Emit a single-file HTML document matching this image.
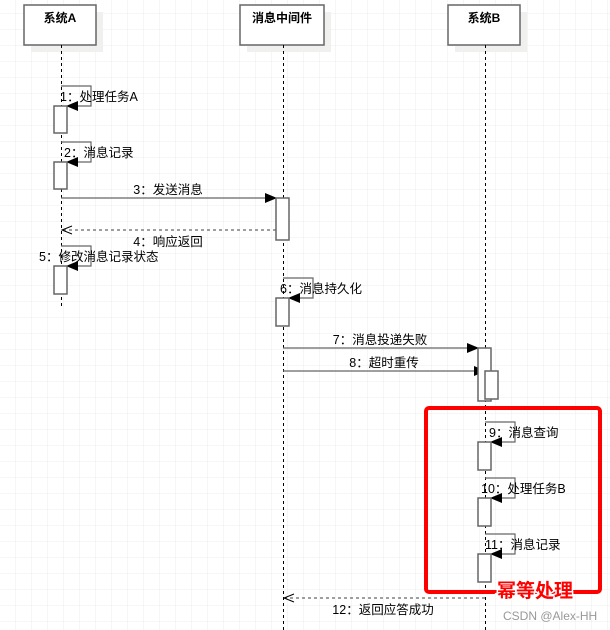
<!DOCTYPE html>
<html><head><meta charset="utf-8"><style>
html,body{margin:0;padding:0;background:#fff}
svg{display:block}
text{font-family:"Liberation Sans","Noto Sans CJK SC",sans-serif;font-size:12.5px;fill:#000}
</style></head><body>
<svg width="610" height="630" xmlns="http://www.w3.org/2000/svg">
<defs>
<pattern id="g" x="0" y="-2" width="16" height="16" patternUnits="userSpaceOnUse">
<path d="M16 0V16M0 16H16" stroke="#ececec" stroke-width="1" fill="none"/>
</pattern>
<marker id="fa" markerWidth="12" markerHeight="10" refX="11" refY="5" orient="auto" markerUnits="userSpaceOnUse">
<path d="M0 0L12 5L0 10Z" fill="#000"/></marker>
<marker id="oa" markerWidth="12" markerHeight="10" refX="11" refY="5" orient="auto" markerUnits="userSpaceOnUse">
<path d="M1 1L11 5L1 9" fill="none" stroke="#000"/></marker>
</defs>
<rect width="610" height="630" fill="url(#g)"/>
<g fill="#f0f0ee"><rect x="31" y="12" width="72" height="40"/><rect x="247" y="12" width="84" height="40"/><rect x="455" y="12" width="72" height="40"/></g>
<g fill="#fff" stroke="#666" stroke-width="1.5">
<rect x="24" y="5" width="72" height="40"/><rect x="240" y="5" width="84" height="40"/><rect x="448" y="5" width="72" height="40"/></g>
<g text-anchor="middle">
<text x="60" y="22" style="font-weight:bold;font-size:12px">系统A</text>
<text x="282" y="22" style="font-weight:bold;font-size:12px">消息中间件</text>
<text x="484" y="22" style="font-weight:bold;font-size:12px">系统B</text></g>
<g stroke="#000" stroke-dasharray="3,3" stroke-width="1">
<line x1="61.5" y1="45" x2="61.5" y2="306"/><line x1="283.5" y1="45" x2="283.5" y2="630"/><line x1="485.5" y1="45" x2="485.5" y2="630"/></g>
<g fill="none" stroke="#666" stroke-width="1.2">
<path d="M61 86H91V106H67" marker-end="url(#fa)"/>
<path d="M61 142H91V162H67" marker-end="url(#fa)"/>
<path d="M61 246H91V266H67" marker-end="url(#fa)"/>
<path d="M283 278H313V298H289" marker-end="url(#fa)"/>
<path d="M485 422H515V442H491" marker-end="url(#fa)"/>
<path d="M485 478H515V498H491" marker-end="url(#fa)"/>
<path d="M485 534H515V554H491" marker-end="url(#fa)"/>
<path d="M61 198H276" marker-end="url(#fa)"/>
<path d="M283 348H478" marker-end="url(#fa)"/>
<path d="M283 371H485" marker-end="url(#fa)"/>
<path d="M276 230H62" stroke-dasharray="3,3" marker-end="url(#oa)"/>
<path d="M485 598H284" stroke-dasharray="3,3" marker-end="url(#oa)"/>
</g>
<g fill="#fff" stroke="#666" stroke-width="1.5">
<rect x="54" y="106" width="13" height="27"/><rect x="54" y="162" width="13" height="27"/><rect x="54" y="266" width="13" height="28"/>
<rect x="276" y="198" width="13" height="42"/><rect x="276" y="298" width="13" height="28"/>
<rect x="478" y="348" width="13" height="53"/><rect x="485" y="371" width="13" height="28"/>
<rect x="478" y="442" width="13" height="28"/><rect x="478" y="498" width="13" height="28"/><rect x="478" y="554" width="13" height="28"/>
</g>
<text x="60" y="101">1：处理任务A</text>
<text x="64" y="157">2：消息记录</text>
<text x="168" y="194" text-anchor="middle">3：发送消息</text>
<text x="168" y="246" text-anchor="middle">4：响应返回</text>
<text x="39" y="261">5：修改消息记录状态</text>
<text x="280" y="293">6：消息持久化</text>
<text x="380" y="344" text-anchor="middle">7：消息投递失败</text>
<text x="384" y="367" text-anchor="middle">8：超时重传</text>
<text x="489" y="437">9：消息查询</text>
<text x="481" y="493">10：处理任务B</text>
<text x="485" y="549">11：消息记录</text>
<text x="383" y="614" text-anchor="middle">12：返回应答成功</text>
<rect x="426" y="408" width="174" height="184" rx="3" fill="none" stroke="#f00" stroke-width="4"/>
<text x="497" y="597" style="font-size:19px;font-weight:bold;fill:#f00;stroke:#fff;stroke-width:3;paint-order:stroke">幂等处理</text>
<text x="503" y="620" style="font-size:12px;fill:#999">CSDN @Alex-HH</text>
</svg>
</body></html>
